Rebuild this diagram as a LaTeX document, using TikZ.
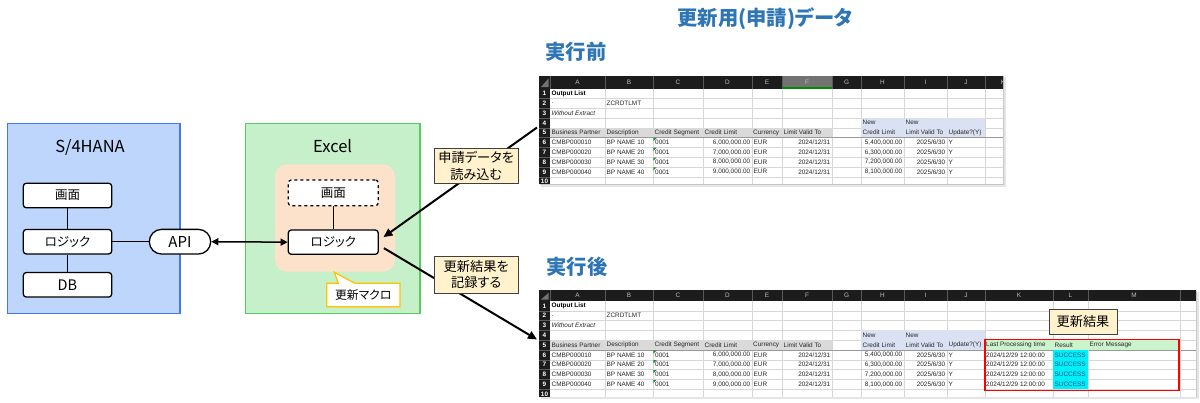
\documentclass[tikz,border=0pt]{standalone}
\usepackage{fontspec}
\setmainfont{Noto Sans CJK JP}[RawFeature=+palt]
\newfontfamily\xl{Liberation Sans}
\usetikzlibrary{arrows.meta,shapes.misc,calc}
\definecolor{sfill}{RGB}{190,214,252}
\definecolor{sline}{RGB}{66,120,245}
\definecolor{efill}{RGB}{198,240,202}
\definecolor{eline}{RGB}{86,204,96}
\definecolor{mfill}{RGB}{252,226,202}
\definecolor{cfill}{RGB}{255,242,204}
\definecolor{gold}{RGB}{255,196,0}
\definecolor{ttl}{RGB}{46,117,182}
\definecolor{gridc}{RGB}{214,214,214}
\definecolor{hdr}{RGB}{28,28,28}
\definecolor{hdrtxt}{RGB}{190,190,190}
\definecolor{rowgrey}{RGB}{218,218,218}
\definecolor{newblue}{RGB}{217,225,242}
\definecolor{resgreen}{RGB}{204,244,204}
\definecolor{cyanf}{RGB}{0,240,250}
\definecolor{succ}{RGB}{16,84,130}
\definecolor{tri}{RGB}{30,140,60}
\tikzset{
  box/.style={draw,line width=1.3pt,rounded corners=3pt,fill=white,minimum width=88.4pt,minimum height=24.5pt,inner sep=0pt,font=\fontsize{12.5}{14}\selectfont},
  link/.style={line width=0.8pt},
  bigarrow/.style={line width=2pt,-{Triangle[length=9pt,width=8pt]}},
  callout/.style={draw=black!75,line width=1pt,fill=cfill,font=\fontsize{13.2}{16.5}\selectfont,align=center,inner sep=0pt},
  title/.style={text=ttl,font=\fontsize{20.3}{22}\selectfont\bfseries,inner sep=0pt},
  cell/.style={font=\xl\fontsize{6.4}{7}\selectfont,inner sep=0pt,text=black!85},
  cellb/.style={font=\xl\bfseries\fontsize{6.4}{7}\selectfont,inner sep=0pt,text=black},
  celli/.style={font=\xl\itshape\fontsize{6.4}{7}\selectfont,inner sep=0pt,text=black!85},
  colhead/.style={font=\xl\fontsize{6.4}{7}\selectfont,inner sep=0pt,text=hdrtxt},
  rownum/.style={font=\xl\bfseries\fontsize{6.4}{7}\selectfont,inner sep=0pt,text=white},
  gridline/.style={draw=gridc,line width=0.4pt},
  hsep/.style={draw=black!65,line width=0.4pt},
}
% #1 prefix, #2 header height, #3 right edge, #4 header highlight code
\newcommand\sheetcore[4]{%
  \fill[white] (539,-#2) rectangle (#3,95.5);
  \foreach \yy in {1,...,9} \draw[gridline] (550,{\yy*9.8}) -- (#3,{\yy*9.8});
  \foreach \xx in {605,653,703,752,782,832,861,904,947,985} \draw[gridline] (\xx,0) -- (\xx,95.5);
  \fill[rowgrey] (550,{4*9.8}) rectangle (832,{5*9.8});
  \fill[newblue] (861,{3*9.8}) rectangle (985,{5*9.8});
  \draw[black!40,line width=0.7pt] (550,{5*9.8}) -- (#3,{5*9.8});
  \fill[hdr] (539,-#2) rectangle (#3,0);
  #4
  \foreach \xx in {550,605,653,703,752,782,832,861,904,947,985} \draw[hsep] (\xx,-#2) -- (\xx,0);
  \foreach \cc/\xa/\xb in {A/550/605,B/605/653,C/653/703,D/703/752,E/752/782,F/782/832,G/832/861,H/861/904,I/904/947,J/947/985}
    \node[colhead] (#1-\cc) at ({(\xa+\xb)/2},{-#2/2}) {\cc};
  \fill[hdr] (539,0) rectangle (550,95.5);
  \foreach \yy in {1,...,9} \draw[hsep] (539,{\yy*9.8}) -- (550,{\yy*9.8});
  \foreach \rr in {1,...,10} \node[rownum] (#1-r\rr) at (544.5,{(\rr-0.5)*9.8}) {\rr};
  \fill[black!55] (548.5,-1.5) -- (548.5,{-#2+3}) -- (541,-1.5) -- cycle;
  \node[cellb,anchor=west] (#1-A1) at (551.5,{0.5*9.8}) {Output List};
  \node[cell,anchor=west] (#1-A2) at (551.5,{1.5*9.8}) {.};
  \node[cell,anchor=west] (#1-B2) at (606.5,{1.5*9.8}) {ZCRDTLMT};
  \node[celli,anchor=west] (#1-A3) at (551.5,{2.5*9.8}) {Without Extract};
  \node[cell,anchor=west] (#1-H4) at (862.5,{3.5*9.8}) {New};
  \node[cell,anchor=west] (#1-I4) at (905.5,{3.5*9.8}) {New};
  \node[cell,anchor=west] (#1-A5) at (551.5,{4.5*9.8}) {Business Partner};
  \node[cell,anchor=west] (#1-B5) at (606.5,{4.5*9.8}) {Description};
  \node[cell,anchor=west] (#1-C5) at (654.5,{4.5*9.8}) {Credit Segment};
  \node[cell,anchor=west] (#1-D5) at (704.5,{4.5*9.8}) {Credit Limit};
  \node[cell,anchor=west] (#1-E5) at (753,{4.5*9.8}) {Currency};
  \node[cell,anchor=west] (#1-F5) at (783.5,{4.5*9.8}) {Limit Valid To};
  \node[cell,anchor=west] (#1-H5) at (862.5,{4.5*9.8}) {Credit Limit};
  \node[cell,anchor=west] (#1-I5) at (905.5,{4.5*9.8}) {Limit Valid To};
  \node[cell,anchor=west] (#1-J5) at (948.5,{4.5*9.8}) {Update?(Y)};
  \foreach \rr/\kk/\hv in {6/1/{5,400},7/2/{6,300},8/3/{7,200},9/4/{8,100}} {
    \node[cell,anchor=west] (#1-A\rr) at (551.5,{(\rr-0.5)*9.8}) {CMBP0000\kk0};
    \node[cell,anchor=west] (#1-B\rr) at (606.5,{(\rr-0.5)*9.8}) {BP NAME \kk0};
    \node[cell,anchor=west] (#1-C\rr) at (655,{(\rr-0.5)*9.8}) {0001};
    \fill[tri] (653.4,{(\rr-1)*9.8+0.4}) -- (656.6,{(\rr-1)*9.8+0.4}) -- (653.4,{(\rr-1)*9.8+3.6}) -- cycle;
    \node[cell,anchor=east] (#1-D\rr) at (750.5,{(\rr-0.5)*9.8}) {\rr,000,000.00};
    \node[cell,anchor=west] (#1-E\rr) at (753.5,{(\rr-0.5)*9.8}) {EUR};
    \node[cell,anchor=east] (#1-F\rr) at (830.5,{(\rr-0.5)*9.8}) {2024/12/31};
    \node[cell,anchor=east] (#1-H\rr) at (902.5,{(\rr-0.5)*9.8}) {\hv,000.00};
    \node[cell,anchor=east] (#1-I\rr) at (945.5,{(\rr-0.5)*9.8}) {2025/6/30};
    \node[cell,anchor=west] (#1-J\rr) at (948.5,{(\rr-0.5)*9.8}) {Y};
  }
}
\begin{document}
\begin{tikzpicture}[x=1pt,y=-1pt]
\useasboundingbox[fill=white] (0,0) rectangle (1200,402);

% titles
\node[title] (ttop) at (765,18.5) {更新用(申請)データ};
\node[title] (tbefore) at (576,51.7) {実行前};
\node[title] (tafter) at (577,266.5) {実行後};

% S/4HANA frame
\node[draw=sline,fill=sfill,line width=1.2pt,minimum width=172.7pt,minimum height=189.5pt,inner sep=0pt] (s4) at (93.65,218.6) {};
\node[font=\fontsize{16.5}{18}\selectfont,inner sep=0pt] (s4t) at (90,147.5) {S/4HANA};
\node[box] (g1) at (67.5,195.5) {画面};
\node[box] (l1) at (67.5,241.7) {ロジック};
\node[box,font=\fontsize{14.5}{16}\selectfont] (db) at (67.5,284.8) {DB};
\draw[link] (g1.south) -- (l1.north);
\draw[link] (l1.south) -- (db.north);
\node[rounded rectangle,draw,line width=1.3pt,fill=white,minimum width=61.4pt,minimum height=24.7pt,inner sep=0pt,font=\fontsize{15}{17}\selectfont] (api) at (180,241.7) {API};
\draw[link] (l1.east) -- (api.west);

% Excel frame
\node[draw=eline,fill=efill,line width=1.2pt,minimum width=174.3pt,minimum height=189.5pt,inner sep=0pt] (ex) at (332.85,218.6) {};
\node[font=\fontsize{16.5}{18}\selectfont,inner sep=0pt] (ext) at (332.7,146) {Excel};
\node[fill=mfill,rounded corners=12pt,minimum width=120pt,minimum height=107.4pt,inner sep=0pt] (mac) at (335,218) {};
\node[box,dashed,minimum width=90pt,minimum height=25.7pt] (g2) at (333.3,192.85) {画面};
\node[box,minimum width=90pt,minimum height=24.3pt] (l2) at (333.3,242.15) {ロジック};
\draw[link] (g2.south) -- (l2.north);
\draw[line width=1.5pt,{Triangle[length=7pt,width=7pt]}-{Triangle[length=7pt,width=7pt]}] (api.east) -- (l2.west);

% macro label
\path[draw=gold,line width=1.3pt,fill=white] (326.7,283.3) -- (338.3,283.3) -- (334.3,272.3) -- (355,283.3) -- (400,283.3) -- (400,306.7) -- (326.7,306.7) -- cycle;
\node[font=\fontsize{11.8}{13}\selectfont,inner sep=0pt] (macro) at (363.3,295.3) {更新マクロ};

% top sheet
\begin{scope}[shift={(0,88.5)}]
  \fill[black!10] (541,-11.5) rectangle (1005.5,98);
  \fill[black!22] (540,-12.5) rectangle (1004.2,96.7);
  \begin{scope}
    \clip (539,-13) rectangle (1003,95.5);
    \sheetcore{t}{13}{1003}{\fill[black!55] (782,-13) rectangle (832,0); \draw[green!55!black,line width=1.2pt] (782,-0.6) -- (832,-0.6);}
    \draw[hsep] (1003,-13) -- (1003,0);
    \node[colhead] (t-K) at (1003,-6.5) {K};
  \end{scope}
\end{scope}

% bottom sheet
\begin{scope}[shift={(0,301)}]
  \fill[black!10] (541,-9.5) rectangle (1198.5,97.5);
  \fill[black!22] (540,-10.5) rectangle (1197.2,96.2);
  \begin{scope}
    \clip (539,-11) rectangle (1196,95);
    \sheetcore{b}{11}{1196}{}
    \foreach \xx in {1053,1088,1180} {
      \draw[gridline] (\xx,0) -- (\xx,95.5);
      \draw[hsep] (\xx,-11) -- (\xx,0);
    }
    \fill[resgreen] (985,{4*9.8}) rectangle (1180,{5*9.8});
    \fill[cyanf] (1053,{5*9.8}) rectangle (1088,{9*9.8});
    \foreach \cc/\xa/\xb in {K/985/1053,L/1053/1088,M/1088/1180,N/1180/1216}
      \node[colhead] (b-\cc) at ({(\xa+\xb)/2},-5.5) {\cc};
    \node[cell,anchor=west] (b-K5) at (986,{4.5*9.8}) {Last Processing time};
    \node[cell,anchor=west] (b-L5) at (1054.5,{4.5*9.8}) {Result};
    \node[cell,anchor=west] (b-M5) at (1089.5,{4.5*9.8}) {Error Message};
    \foreach \rr in {6,...,9} {
      \node[cell,anchor=west] (b-K\rr) at (986,{(\rr-0.5)*9.8}) {2024/12/29 12:00:00};
      \node[cell,anchor=west,text=succ] (b-L\rr) at (1054.5,{(\rr-0.5)*9.8}) {SUCCESS};
    }
  \end{scope}
\end{scope}
\draw[red,line width=1.3pt] (985,339.5) rectangle (1179,390.5);
\node[callout,minimum width=68pt,minimum height=25pt] (res) at (1083,321.5) {更新結果};

% arrows
\coordinate (tin) at (537,127.5);
\coordinate (bin) at (537,339.5);
\draw[bigarrow] (tin) -- ($(l2.east)+(4.5,-5)$);
\draw[bigarrow] ($(l2.east)+(5,6)$) -- (bin);

% callouts
\node[callout,minimum width=84.3pt,minimum height=35pt] (c1) at (476.2,165.8) {申請データを\\読み込む};
\node[callout,minimum width=84.3pt,minimum height=37.3pt] (c2) at (476.2,274.7) {更新結果を\\記録する};
\end{tikzpicture}
\end{document}
